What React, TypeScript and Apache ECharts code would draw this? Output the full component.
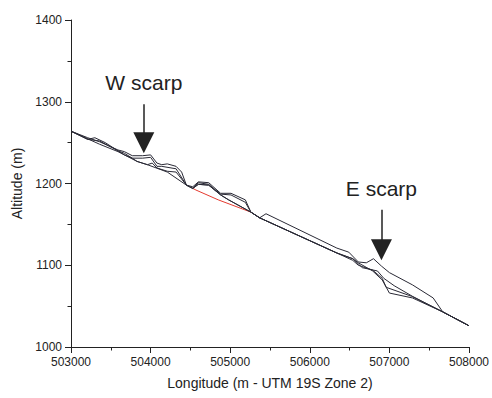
import React, { useEffect, useRef } from 'react';
import * as echarts from 'echarts';

// Profile 1
const profile1Lon = [503000, 503210, 503360, 503590, 503670, 503770, 503900, 504000, 504080, 504140, 504210, 504320, 504390, 504450, 504530, 504600, 504730, 504880, 505010, 505190, 505260, 505370, 505450, 506340, 506490, 506610, 506710, 506800, 506900, 507000, 507290, 507550, 507670, 508000];
const profile1Alt = [1264, 1256, 1251, 1241, 1239, 1234, 1234, 1235, 1225, 1223, 1224, 1221, 1214, 1198, 1196, 1202, 1201, 1188, 1188, 1180, 1165, 1158, 1163, 1121, 1116, 1104, 1103, 1108, 1099, 1091, 1076, 1060, 1043, 1026];
// Profile 2
const profile2Lon = [503000, 503210, 503360, 503590, 503670, 503770, 503900, 504000, 504080, 504140, 504320, 504450, 504530, 504600, 504730, 504880, 504980, 505260, 505370, 506340, 506540, 506660, 506850, 506930, 507060, 507290, 507670, 508000];
const profile2Alt = [1264, 1254, 1252, 1240, 1235, 1231, 1231, 1232, 1221, 1221, 1218, 1198, 1194, 1199, 1198, 1186, 1180, 1165, 1158, 1115, 1108, 1097, 1093, 1084, 1075, 1062, 1043, 1026];
// Profile 3
const profile3Lon = [503000, 503210, 503300, 503430, 503590, 503670, 503770, 503830, 503960, 504020, 504080, 504210, 504320, 504450, 504530, 504600, 504730, 504880, 505010, 505190, 505260, 505370, 506340, 506540, 506610, 506790, 506910, 506960, 507280, 507670, 508000];
const profile3Alt = [1264, 1254, 1256, 1250, 1240, 1237, 1231, 1227, 1223, 1225, 1219, 1215, 1214, 1198, 1194, 1201, 1199, 1187, 1186, 1177, 1165, 1158, 1115, 1106, 1100, 1094, 1084, 1073, 1062, 1043, 1026];
// Profile 4
const profile4Lon = [503000, 503360, 503590, 503830, 503960, 504210, 504450, 504530, 504600, 504730, 504880, 504980, 505260, 505370, 506340, 506540, 506610, 506790, 506910, 507000, 507290, 507670, 508000];
const profile4Alt = [1264, 1248, 1239, 1227, 1223, 1214, 1198, 1194, 1199, 1198, 1186, 1180, 1165, 1158, 1115, 1108, 1103, 1093, 1082, 1066, 1060, 1043, 1026];
// Red profile segment
const redLon = [504530, 504570, 504850, 505260];
const redAlt = [1194, 1192, 1180, 1165];

// Annotations (arrows)
const arrowLabels = ['W scarp', 'E scarp'];
const arrowLon = [503915, 506900];
const arrowTopAlt = [1297, 1168];
const arrowHeadAlt = [1250, 1119];

const xTicks = { min: 503000, max: 508000, interval: 1000 };
const yTicks = { min: 1000, max: 1400, interval: 100 };

const zip = (xs: number[], ys: number[]) => xs.map((x, i) => [x, ys[i]]);

export default function App() {
  const ref = useRef<HTMLDivElement>(null);
  useEffect(() => {
    const chart = echarts.init(ref.current!, null, { renderer: 'svg' });
    const font = "'Liberation Sans', Arial, Helvetica, sans-serif";
    const ink = '#222';
    const lineColor = '#2a2a36';
    const profiles = [
      [profile1Lon, profile1Alt],
      [profile2Lon, profile2Alt],
      [profile3Lon, profile3Alt],
      [profile4Lon, profile4Alt],
    ];
    const axisCommon = {
      type: 'value' as const,
      axisLine: { show: true, onZero: false, lineStyle: { color: ink, width: 1 } },
      axisTick: { show: true, inside: false, length: 6, lineStyle: { color: ink, width: 1 } },
      minorTick: { show: true, splitNumber: 2, length: 3.5, lineStyle: { color: ink, width: 1 } },
      splitLine: { show: false },
      minorSplitLine: { show: false },
      nameLocation: 'middle' as const,
      nameTextStyle: { fontSize: 14, color: ink, fontFamily: font },
    };
    chart.setOption({
      animation: false,
      grid: { left: 71, right: 18, top: 20, bottom: 51 },
      xAxis: {
        ...axisCommon,
        ...xTicks,
        name: 'Longitude (m - UTM 19S Zone 2)',
        nameGap: 29,
        axisLabel: { fontSize: 12, color: ink, fontFamily: font, margin: 9, formatter: (v: number) => String(v) },
      },
      yAxis: {
        ...axisCommon,
        ...yTicks,
        name: 'Altitude (m)',
        nameRotate: 90,
        nameGap: 44,
        axisLabel: { fontSize: 12, color: ink, fontFamily: font, margin: 9, formatter: (v: number) => String(v) },
      },
      series: [
        {
          type: 'line',
          data: zip(redLon, redAlt),
          showSymbol: false,
          symbol: 'none',
          silent: true,
          lineStyle: { color: '#e53a2f', width: 1 },
          z: 2,
        },
        ...profiles.map(([lon, alt], i) => ({
          type: 'line',
          data: zip(lon, alt),
          showSymbol: false,
          symbol: 'none',
          silent: true,
          lineStyle: { color: lineColor, width: 1 },
          z: 3,
          markLine:
            i === 0
              ? {
                  silent: true,
                  animation: false,
                  symbol: ['none', 'triangle'],
                  symbolSize: 21,
                  lineStyle: { color: ink, width: 1.5, type: 'solid' },
                  label: {
                    show: true,
                    position: 'start',
                    distance: 11,
                    fontSize: 21,
                    color: ink,
                    fontFamily: font,
                    formatter: (p: any) => arrowLabels[p.dataIndex],
                  },
                  emphasis: { disabled: true },
                  data: arrowLon.map((x, k) => [
                    { coord: [x, arrowTopAlt[k]] },
                    { coord: [x, arrowHeadAlt[k]] },
                  ]),
                }
              : undefined,
        })),
      ],
    });
    return () => chart.dispose();
  }, []);
  return <div ref={ref} style={{ position: 'absolute', left: 0, top: 0, width: 492, height: 398, background: '#fff' }} />;
}
